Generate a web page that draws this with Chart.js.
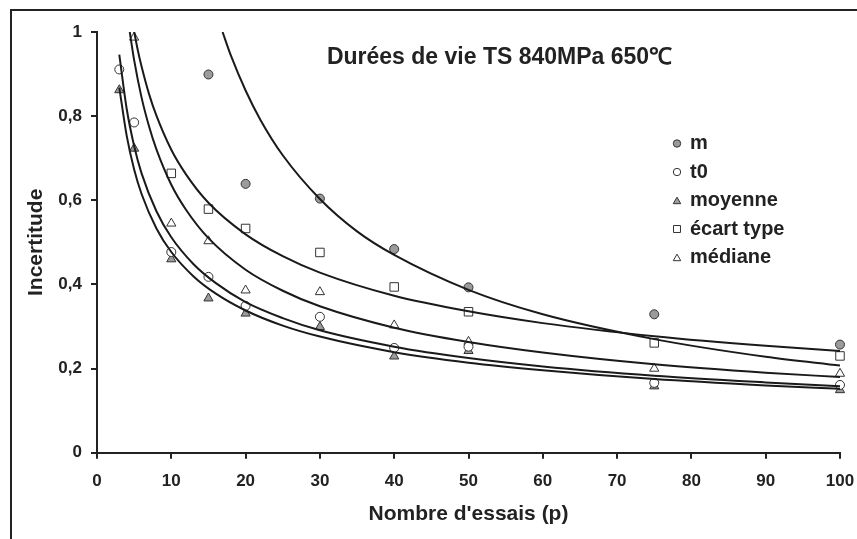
<!DOCTYPE html>
<html>
<head>
<meta charset="utf-8">
<script src="https://cdn.jsdelivr.net/npm/chart.js@4/dist/chart.umd.min.js"></script>
<style>
html,body{margin:0;padding:0;background:#fff;}
#wrap{width:857px;height:539px;position:relative;}
</style>
</head>
<body>
<div id="wrap"><canvas id="c"></canvas></div>
<script>
// ---- data ----
const titleText = "Durées de vie TS 840MPa 650℃";
const xTitle = "Nombre d'essais (p)";
const yTitle = "Incertitude";
const seriesNames = ["m", "t0", "moyenne", "écart type", "médiane"];

const mX = [15, 20, 30, 40, 50, 75, 100];
const mY = [0.899, 0.639, 0.604, 0.484, 0.393, 0.329, 0.257];
const t0X = [3, 5, 10, 15, 20, 30, 40, 50, 75, 100];
const t0Y = [0.911, 0.785, 0.477, 0.418, 0.349, 0.323, 0.249, 0.252, 0.166, 0.161];
const moyX = [3, 5, 10, 15, 20, 30, 40, 50, 75, 100];
const moyY = [0.862, 0.723, 0.460, 0.367, 0.331, 0.299, 0.229, 0.242, 0.158, 0.149];
const ecX = [10, 15, 20, 30, 40, 50, 75, 100];
const ecY = [0.664, 0.579, 0.533, 0.476, 0.394, 0.335, 0.261, 0.230];
const medX = [5, 10, 15, 20, 30, 40, 50, 75, 100];
const medY = [0.987, 0.545, 0.503, 0.386, 0.382, 0.303, 0.264, 0.200, 0.188];

// trend curves
const cmX = [16.9, 18, 20, 22, 25, 30, 35, 40, 50, 60, 75, 90, 100];
const cmY = [1.0, 0.945, 0.861, 0.791, 0.707, 0.603, 0.526, 0.470, 0.387, 0.329, 0.270, 0.228, 0.207];
const ct0X = [3, 4, 5, 6, 8, 10, 13, 16, 20, 25, 30, 40, 50, 60, 75, 90, 100];
const ct0Y = [0.946, 0.817, 0.729, 0.664, 0.574, 0.512, 0.448, 0.403, 0.358, 0.320, 0.291, 0.252, 0.225, 0.205, 0.183, 0.167, 0.158];
const cmoyX = [3, 4, 5, 6, 8, 10, 13, 16, 20, 25, 30, 40, 50, 60, 75, 90, 100];
const cmoyY = [0.868, 0.753, 0.673, 0.615, 0.533, 0.477, 0.419, 0.378, 0.338, 0.302, 0.276, 0.239, 0.214, 0.196, 0.175, 0.160, 0.152];
const cecX = [5.01, 5.5, 6, 7, 8, 10, 12, 15, 20, 25, 30, 40, 50, 60, 75, 90, 100];
const cecY = [1.0, 0.956, 0.918, 0.853, 0.801, 0.720, 0.661, 0.594, 0.519, 0.467, 0.428, 0.373, 0.336, 0.308, 0.277, 0.254, 0.242];
const cmedX = [4.41, 5, 6, 7, 8, 10, 12, 15, 20, 25, 30, 40, 50, 60, 75, 90, 100];
const cmedY = [1.0, 0.933, 0.844, 0.776, 0.721, 0.637, 0.577, 0.510, 0.435, 0.385, 0.348, 0.297, 0.263, 0.238, 0.210, 0.190, 0.180];

const xTicks = [0, 10, 20, 30, 40, 50, 60, 70, 80, 90, 100];
const yTicks = [0, 0.2, 0.4, 0.6, 0.8, 1];

// ---- build ----
const pts = (xs, ys) => xs.map((x, i) => ({x: x, y: ys[i]}));
const FONT = "'Liberation Sans', Arial, Helvetica, sans-serif";
const INK = '#222222';
const GRAY = '#9b9b9b';

const markerDefs = [
  {style: 'circle', fill: GRAY, r: 4.5},
  {style: 'circle', fill: '#ffffff', r: 4.5},
  {style: 'triangle', fill: GRAY, r: 5.3},
  {style: 'rect', fill: '#ffffff', r: 6.0},
  {style: 'triangle', fill: '#ffffff', r: 5.3}
];
const pointSets = [[mX, mY], [t0X, t0Y], [moyX, moyY], [ecX, ecY], [medX, medY]];
const curveSets = [[cmX, cmY], [ct0X, ct0Y], [cmoyX, cmoyY], [cecX, cecY], [cmedX, cmedY]];

const datasets = [];
curveSets.forEach((c, i) => {
  datasets.push({
    label: seriesNames[i] + ' trend',
    isTrend: true,
    data: pts(c[0], c[1]),
    showLine: true,
    borderColor: '#1a1a1a',
    borderWidth: 2,
    pointRadius: 0,
    cubicInterpolationMode: 'monotone',
    fill: false,
    order: 0
  });
});
pointSets.forEach((p, i) => {
  const m = markerDefs[i];
  datasets.push({
    label: seriesNames[i],
    isTrend: false,
    data: pts(p[0], p[1]),
    showLine: false,
    pointStyle: m.style,
    pointRadius: m.r,
    pointBackgroundColor: m.fill,
    pointBorderColor: '#333333',
    pointBorderWidth: 1,
    clip: false,
    order: 1
  });
});

const decor = {
  id: 'decor',
  beforeDraw(chart) {
    const ctx = chart.ctx;
    ctx.save();
    ctx.strokeStyle = INK;
    ctx.lineWidth = 2;
    ctx.beginPath();
    ctx.moveTo(11, 539);
    ctx.lineTo(11, 10);
    ctx.lineTo(857, 10);
    ctx.stroke();
    ctx.restore();
  },
  afterDraw(chart) {
    const ctx = chart.ctx;
    ctx.save();
    // title
    ctx.fillStyle = INK;
    ctx.font = 'bold 23px ' + FONT;
    ctx.textAlign = 'center';
    ctx.textBaseline = 'middle';
    ctx.fillText(titleText, 499.5, 58);
    // legend
    ctx.font = 'bold 20px ' + FONT;
    ctx.textAlign = 'left';
    const lx = 677, tx = 690, y0 = 143.5, dy = 28.5;
    chart.data.datasets.filter(d => !d.isTrend).forEach((d, i) => {
      const y = y0 + i * dy;
      ctx.fillStyle = d.pointBackgroundColor;
      ctx.strokeStyle = d.pointBorderColor;
      ctx.lineWidth = 1;
      Chart.helpers.drawPoint(ctx, {pointStyle: d.pointStyle, radius: d.pointRadius * 0.82, rotation: 0, borderWidth: 1}, lx, y + (d.pointStyle === 'triangle' ? 1 : 0));
      ctx.fillStyle = INK;
      ctx.fillText(d.label, tx, y);
    });
    ctx.restore();
  }
};

new Chart(document.getElementById('c'), {
  type: 'scatter',
  data: {datasets: datasets},
  options: {
    responsive: true,
    maintainAspectRatio: false,
    animation: false,
    layout: {padding: {top: 32, right: 0, left: 0, bottom: 0}},
    plugins: {legend: {display: false}, tooltip: {enabled: false}, title: {display: false}},
    scales: {
      x: {
        type: 'linear',
        min: 0, max: 100,
        afterBuildTicks(scale) { scale.ticks = xTicks.map(v => ({value: v})); },
        afterFit(scale) { scale.height = 86.3; scale.paddingRight = 17; scale.paddingLeft = 0; },
        ticks: {color: INK, font: {family: FONT, size: 17, weight: 'bold'}, padding: 12, callback: v => String(v)},
        grid: {drawOnChartArea: false, drawTicks: true, tickLength: 6, color: INK, lineWidth: 2},
        border: {display: true, color: INK, width: 2},
        title: {display: true, text: xTitle, color: INK, font: {family: FONT, size: 21, weight: 'bold'}, padding: {top: 0, bottom: 12}}
      },
      y: {
        type: 'linear',
        min: 0, max: 1,
        afterBuildTicks(scale) { scale.ticks = yTicks.map(v => ({value: v})); },
        afterFit(scale) { scale.width = 97; },
        ticks: {color: INK, font: {family: FONT, size: 17, weight: 'bold'}, padding: 9, callback: v => String(Math.round(v * 10) / 10).replace('.', ',')},
        grid: {drawOnChartArea: false, drawTicks: true, tickLength: 6, color: INK, lineWidth: 2},
        border: {display: true, color: INK, width: 2},
        title: {display: true, text: yTitle, color: INK, font: {family: FONT, size: 21, weight: 'bold'}, padding: {top: 24, bottom: 0}}
      }
    }
  },
  plugins: [decor]
});
</script>
</body>
</html>
